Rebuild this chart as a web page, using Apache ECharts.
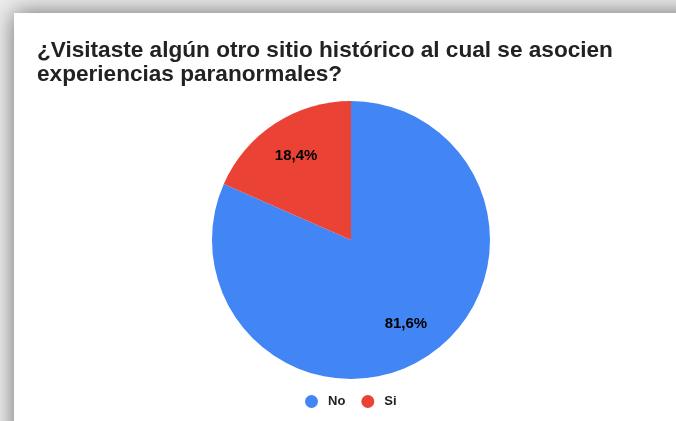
<!DOCTYPE html>
<html><head><meta charset="utf-8">
<script src="https://cdn.jsdelivr.net/npm/echarts@6/dist/echarts.min.js"></script>
<style>html,body{margin:0;padding:0;background:#ededed;}#c{width:676px;height:421px;}</style>
</head><body><div id="c"></div>
<script>
const titleText = '¿Visitaste algún otro sitio histórico al cual se asocien\nexperiencias paranormales?';
const categories = ['No', 'Si'];
const values = [81.6, 18.4];
const colors = ['#4285f4', '#ea4335'];

const data = categories.map((c, i) => ({name: c, value: values[i], itemStyle: {color: colors[i]}}));
const chart = echarts.init(document.getElementById('c'), null, {renderer: 'canvas'});
const cx = 351, cy = 240, R = 139;
chart.setOption({
  backgroundColor: '#ededed',
  animation: false,
  graphic: [{
    type: 'rect', z: -10, silent: true,
    shape: {x: 14, y: 13, width: 720, height: 440},
    style: {fill: '#ffffff', shadowBlur: 22, shadowColor: 'rgba(0,0,0,0.55)', shadowOffsetX: 0, shadowOffsetY: 0}
  }],
  title: {
    text: titleText, left: 32, top: 34,
    textStyle: {fontFamily: 'Liberation Sans, Arial', fontWeight: 'bold', fontSize: 22.6, color: '#222222', lineHeight: 24}
  },
  legend: {
    data: categories, top: 390, left: 300, icon: 'circle', itemWidth: 13, itemHeight: 13, itemGap: 16,
    textStyle: {fontFamily: 'Liberation Sans, Arial', fontWeight: 'bold', fontSize: 13, color: '#222222', padding: [0, 0, 0, 5]}
  },
  series: [{
    type: 'pie', center: [cx, cy], radius: [0, R], startAngle: 90, clockwise: true,
    data: data, label: {show: false}, labelLine: {show: false},
    itemStyle: {borderColor: '#ffffff', borderWidth: 0}
  }, {
    type: 'pie', center: [cx, cy], radius: [56, R], startAngle: 90, clockwise: true, silent: true,
    legendHoverLink: false,
    data: categories.map((c, i) => ({name: c + ' ', value: values[i]})),
    itemStyle: {color: 'rgba(0,0,0,0)'},
    label: {show: true, position: 'inside', formatter: p => p.value.toFixed(1).replace('.', ',') + '%',
      fontFamily: 'Liberation Sans, Arial', fontWeight: 'bold', fontSize: 15, color: '#000000'},
    labelLine: {show: false}
  }]
});
</script></body></html>
